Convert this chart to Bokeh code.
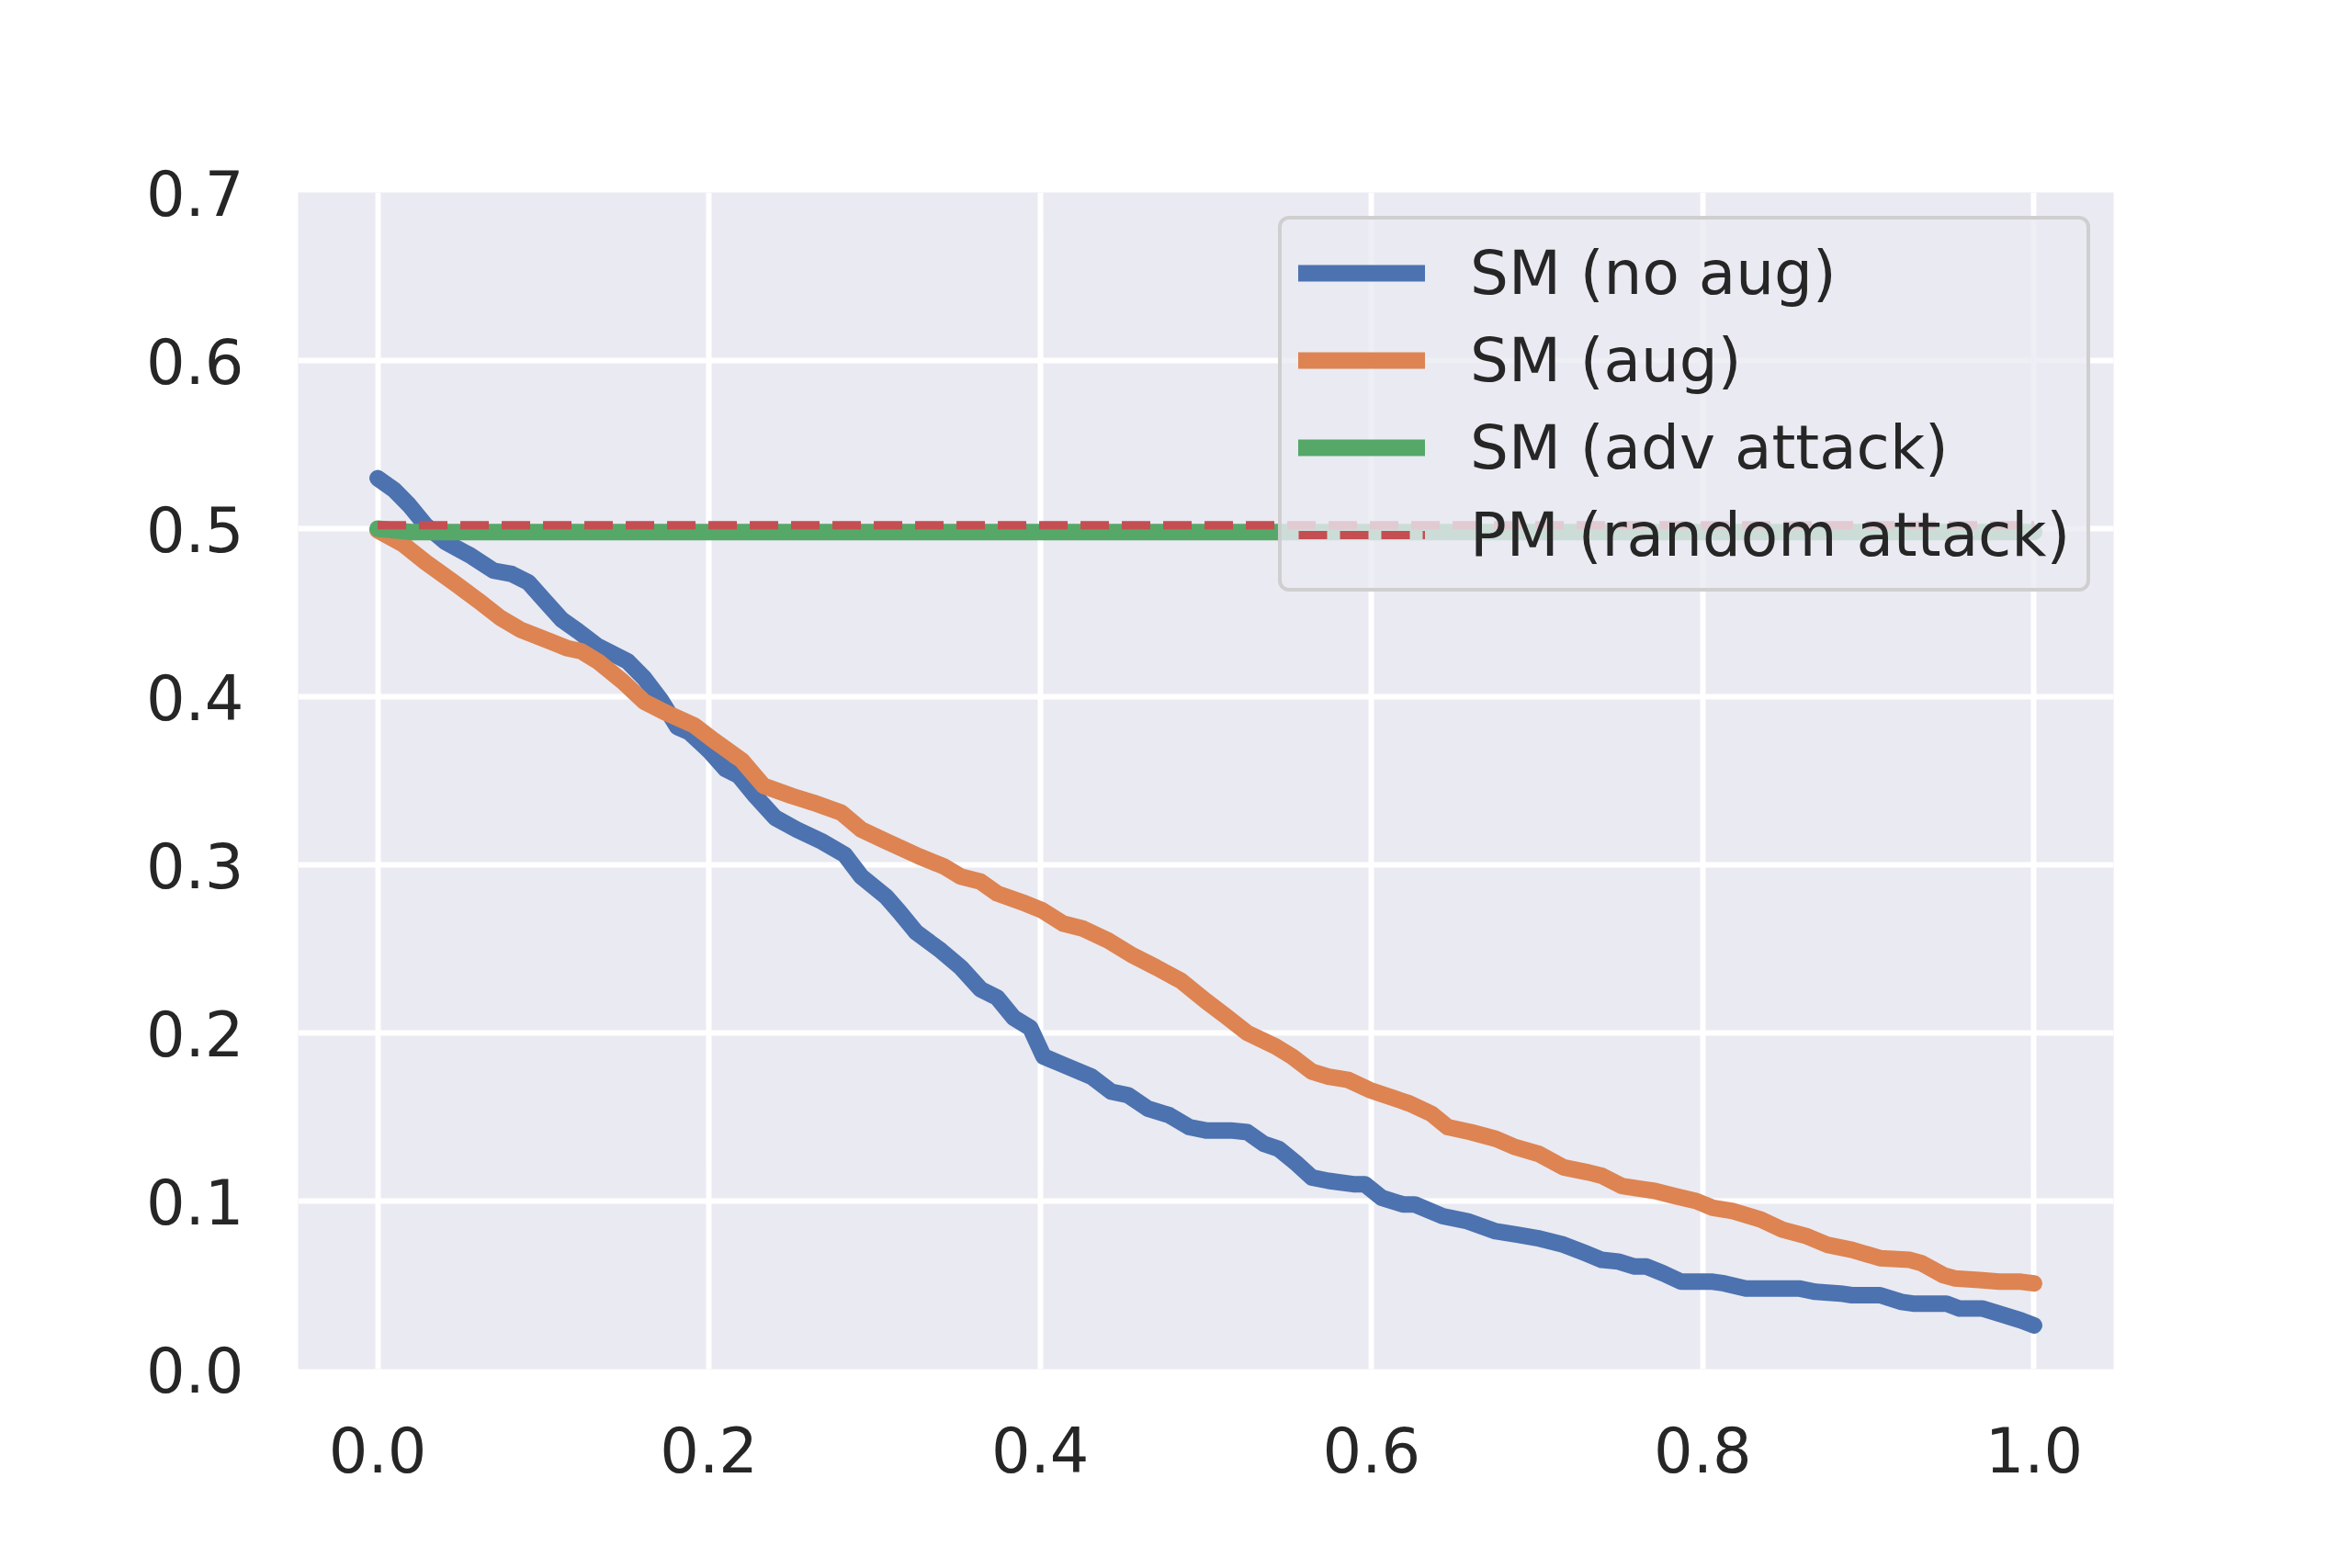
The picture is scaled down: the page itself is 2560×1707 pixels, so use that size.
from bokeh.plotting import figure
from bokeh.models import (Legend, LegendItem, FixedTicker, PrintfTickFormatter,
                          Range1d)
from bokeh.embed import file_html
from bokeh.resources import INLINE

# ---- data ----
blue_x = [0.000, 0.010, 0.019, 0.029, 0.041, 0.056, 0.070, 0.081, 0.091, 0.101,
          0.111, 0.121, 0.133, 0.151, 0.161, 0.171, 0.181, 0.188, 0.200, 0.210,
          0.218, 0.228, 0.240, 0.253, 0.268, 0.282, 0.292, 0.307, 0.315, 0.325,
          0.340, 0.352, 0.364, 0.374, 0.384, 0.394, 0.402, 0.414, 0.431, 0.443,
          0.453, 0.465, 0.478, 0.490, 0.500, 0.515, 0.525, 0.535, 0.544, 0.554,
          0.564, 0.574, 0.589, 0.596, 0.606, 0.619, 0.626, 0.643, 0.658, 0.675,
          0.688, 0.700, 0.716, 0.729, 0.739, 0.749, 0.759, 0.766, 0.776, 0.787,
          0.806, 0.813, 0.826, 0.858, 0.868, 0.883, 0.890, 0.907, 0.920, 0.927,
          0.947, 0.955, 0.969, 0.979, 0.992, 1.000]
blue_y = [0.530, 0.523, 0.514, 0.502, 0.492, 0.484, 0.475, 0.473, 0.468, 0.457,
          0.446, 0.439, 0.430, 0.421, 0.411, 0.398, 0.382, 0.379, 0.368, 0.357,
          0.353, 0.341, 0.328, 0.321, 0.314, 0.306, 0.293, 0.281, 0.272, 0.260,
          0.249, 0.239, 0.226, 0.221, 0.209, 0.203, 0.186, 0.181, 0.174, 0.165,
          0.163, 0.155, 0.151, 0.144, 0.142, 0.142, 0.141, 0.134, 0.131, 0.123,
          0.114, 0.112, 0.110, 0.110, 0.102, 0.098, 0.098, 0.091, 0.088, 0.082,
          0.080, 0.078, 0.074, 0.069, 0.065, 0.064, 0.061, 0.061, 0.057, 0.052,
          0.052, 0.051, 0.048, 0.048, 0.046, 0.045, 0.044, 0.044, 0.040, 0.039,
          0.039, 0.036, 0.036, 0.033, 0.029, 0.026]

orange_x = [0.000, 0.015, 0.029, 0.046, 0.061, 0.074, 0.086, 0.104, 0.114, 0.123,
            0.133, 0.148, 0.161, 0.173, 0.191, 0.203, 0.220, 0.233, 0.250, 0.263,
            0.280, 0.292, 0.307, 0.327, 0.342, 0.352, 0.364, 0.374, 0.391, 0.401,
            0.414, 0.426, 0.441, 0.456, 0.470, 0.485, 0.500, 0.512, 0.525, 0.542,
            0.552, 0.564, 0.574, 0.586, 0.599, 0.611, 0.623, 0.636, 0.646, 0.660,
            0.675, 0.687, 0.701, 0.716, 0.731, 0.739, 0.751, 0.764, 0.771, 0.783,
            0.796, 0.806, 0.818, 0.835, 0.848, 0.863, 0.875, 0.890, 0.907, 0.925,
            0.932, 0.945, 0.952, 0.967, 0.979, 0.992, 1.000]
orange_y = [0.499, 0.491, 0.480, 0.468, 0.457, 0.447, 0.440, 0.433, 0.429, 0.427,
            0.421, 0.409, 0.397, 0.391, 0.383, 0.374, 0.362, 0.347, 0.341, 0.337,
            0.331, 0.321, 0.314, 0.305, 0.299, 0.293, 0.290, 0.283, 0.277, 0.273,
            0.265, 0.262, 0.255, 0.246, 0.239, 0.231, 0.219, 0.210, 0.200, 0.192,
            0.186, 0.177, 0.174, 0.172, 0.166, 0.162, 0.158, 0.152, 0.144, 0.141,
            0.137, 0.132, 0.128, 0.120, 0.117, 0.115, 0.109, 0.107, 0.106, 0.103,
            0.100, 0.096, 0.094, 0.089, 0.083, 0.079, 0.074, 0.071, 0.066, 0.065,
            0.063, 0.056, 0.054, 0.053, 0.052, 0.052, 0.051]

green_x = [0.0, 0.02, 1.0]
green_y = [0.500, 0.498, 0.498]

red_x = [0.0, 1.0]
red_y = [0.502, 0.502]

series_labels = ["SM (no aug)", "SM (aug)", "SM (adv attack)", "PM (random attack)"]
x_ticks = [0.0, 0.2, 0.4, 0.6, 0.8, 1.0]
y_ticks = [0.0, 0.1, 0.2, 0.3, 0.4, 0.5, 0.6, 0.7]

# ---- styling ----
FONT = "DejaVu Sans"
TXT = "#262626"
BG = "#EAEAF2"
C_BLUE, C_ORANGE, C_GREEN, C_RED = "#4C72B0", "#DD8452", "#55A868", "#C44E52"

p = figure(width=2544, height=1690, output_backend="svg", toolbar_location=None,
           x_range=Range1d(-0.048, 1.048), y_range=Range1d(0.0, 0.7),
           min_border_left=324, min_border_right=244,
           min_border_top=209, min_border_bottom=200)
p.background_fill_color = BG
p.border_fill_color = "white"
p.outline_line_color = None

for ax in (p.xaxis[0], p.yaxis[0]):
    ax.axis_line_color = None
    ax.major_tick_line_color = None
    ax.minor_tick_line_color = None
    ax.major_label_text_font = FONT
    ax.major_label_text_font_size = "67px"
    ax.major_label_text_color = TXT
    ax.formatter = PrintfTickFormatter(format="%.1f")

p.xaxis[0].ticker = FixedTicker(ticks=x_ticks)
p.yaxis[0].ticker = FixedTicker(ticks=y_ticks)
p.xaxis[0].major_label_standoff = 56
p.yaxis[0].major_label_standoff = 53

p.xgrid[0].ticker = FixedTicker(ticks=x_ticks)
p.ygrid[0].ticker = FixedTicker(ticks=y_ticks)
for g in (p.xgrid[0], p.ygrid[0]):
    g.grid_line_color = "white"
    g.grid_line_width = 6

common = dict(line_width=18, line_cap="round", line_join="round")
r_blue = p.line(blue_x, blue_y, line_color=C_BLUE, **common)
r_orange = p.line(orange_x, orange_y, line_color=C_ORANGE, **common)
r_green = p.line(green_x, green_y, line_color=C_GREEN, **common)
r_red = p.line(red_x, red_y, line_color=C_RED, line_width=9,
               line_dash="31 14", line_cap="butt")

legend = Legend(items=[LegendItem(label=series_labels[0], renderers=[r_blue]),
                       LegendItem(label=series_labels[1], renderers=[r_orange]),
                       LegendItem(label=series_labels[2], renderers=[r_green]),
                       LegendItem(label=series_labels[3], renderers=[r_red])],
                location=(1067, 846), margin=0, padding=18, spacing=15,
                glyph_width=138, glyph_height=80, label_height=80,
                label_standoff=49,
                label_text_font=FONT, label_text_font_size="66px",
                label_text_color=TXT,
                background_fill_color=BG, background_fill_alpha=0.8,
                border_line_color="#cccccc", border_line_width=4,
                border_line_alpha=0.9)
try:
    legend.border_radius = 12
except Exception:
    pass
p.add_layout(legend, "center")

open("out.html", "w").write(file_html(p, INLINE))
